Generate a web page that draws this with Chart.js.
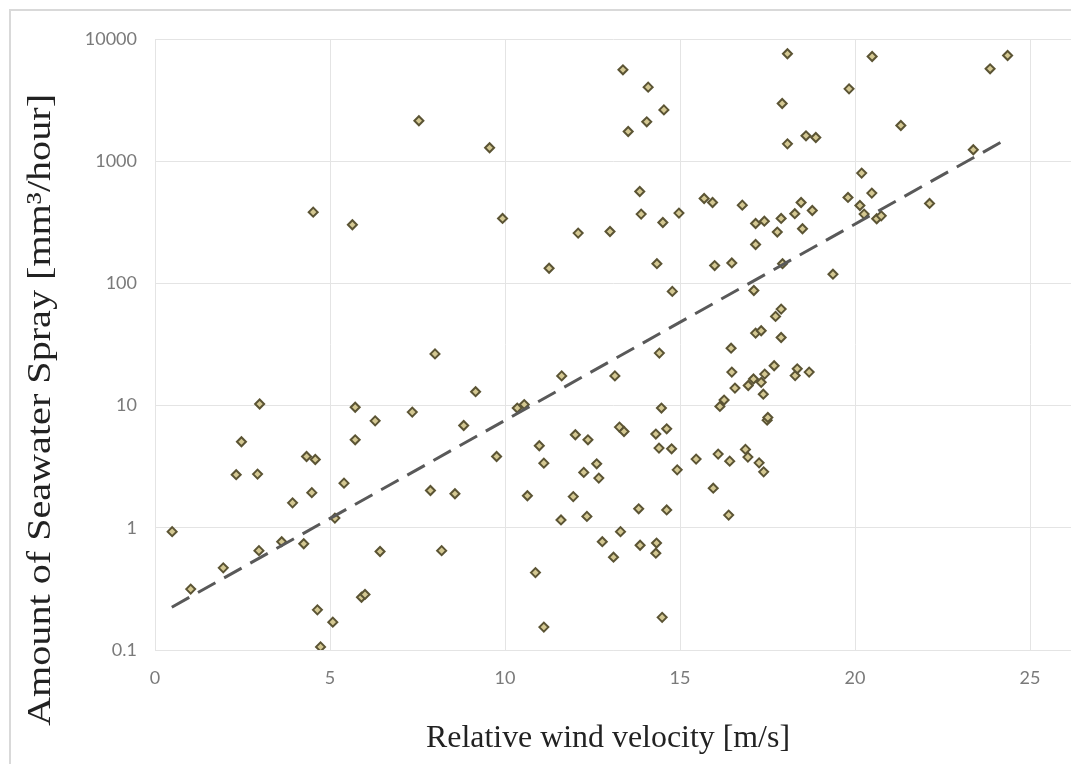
<!DOCTYPE html>
<html>
<head>
<meta charset="utf-8">
<title>Seawater spray vs relative wind velocity</title>
<script src="https://cdn.jsdelivr.net/npm/chart.js@4.4.1/dist/chart.umd.min.js"></script>
<style>
  html, body { margin: 0; padding: 0; background: #fff; }
  #wrap { width: 1071px; height: 764px; position: relative; }
</style>
</head>
<body>
<div id="wrap"><canvas id="sprayCanvas"></canvas></div>
<script>
// relative wind velocity [m/s]
var windSpeed = [
  0.49, 1.02, 1.95, 2.32, 2.47, 2.93, 2.99, 2.97, 3.62, 3.93,
  4.25, 4.33, 4.58, 4.48, 4.64, 4.73, 5.08, 5.14, 5.40, 5.72,
  5.72, 5.90, 6.00, 4.52, 5.64, 7.54, 9.56, 9.93, 13.37, 14.09,
  14.54, 14.05, 13.52, 13.85, 13.89, 14.97, 14.51, 12.09, 13.00, 11.26,
  14.34, 14.78, 8.00, 14.41, 6.29, 7.35, 9.16, 8.82, 9.76, 7.87,
  8.57, 6.43, 8.19, 10.35, 10.55, 11.62, 13.14, 14.47, 10.98, 11.11,
  10.64, 12.01, 12.37, 13.27, 13.40, 12.62, 12.25, 12.68, 11.95, 11.60,
  12.34, 14.31, 14.62, 14.40, 14.76, 14.92, 15.46, 13.82, 14.62, 13.30,
  12.78, 13.86, 13.10, 14.33, 14.31, 10.87, 11.11, 14.49, 18.07, 20.49,
  24.36, 23.86, 19.83, 17.92, 21.31, 18.60, 18.88, 18.07, 23.38, 20.19,
  15.69, 15.93, 16.78, 19.80, 20.48, 22.13, 20.14, 20.26, 20.62, 20.75,
  18.46, 18.78, 18.28, 17.89, 17.41, 17.16, 18.50, 17.78, 17.16, 15.99,
  16.48, 17.93, 19.37, 17.11, 17.89, 17.73, 17.16, 17.32, 17.89, 16.46,
  16.48, 16.57, 16.95, 17.10, 17.32, 17.42, 17.69, 18.29, 18.35, 18.69,
  17.38, 16.14, 16.26, 17.49, 17.51, 16.09, 16.42, 16.87, 16.94, 17.26,
  17.39, 15.95, 16.39
];
// amount of seawater spray [mm3/hour]
var sprayAmount = [
  0.93, 0.315, 0.47, 2.72, 5.06, 2.75, 10.3, 0.65, 0.77, 1.6,
  0.74, 3.83, 3.62, 1.94, 0.213, 0.106, 0.169, 1.2, 2.32, 9.7,
  5.25, 0.27, 0.285, 383, 302, 2142, 1289, 340, 5596, 4037,
  2630, 2100, 1750, 565, 369, 376, 315, 258, 266, 133,
  145, 86, 26.5, 26.9, 7.5, 8.85, 13.0, 6.87, 3.83, 2.02,
  1.9, 0.64, 0.65, 9.55, 10.2, 17.5, 17.5, 9.55, 4.69, 3.38,
  1.83, 5.77, 5.25, 6.67, 6.14, 3.34, 2.84, 2.55, 1.8, 1.16,
  1.24, 5.85, 6.46, 4.49, 4.43, 2.98, 3.65, 1.43, 1.4, 0.93,
  0.77, 0.72, 0.575, 0.75, 0.62, 0.43, 0.154, 0.185, 7568, 7190,
  7330, 5700, 3910, 2965, 1960, 1614, 1563, 1387, 1240, 799,
  495, 459, 437, 505, 548, 451, 434, 369, 338, 357,
  459, 395, 372, 340, 323, 309, 280, 263, 208, 140,
  147, 145, 119, 87.5, 61.6, 53.7, 39.2, 41, 36.1, 29.5,
  18.8, 13.9, 14.6, 16.5, 15.5, 18.1, 21.2, 17.6, 20.0, 18.8,
  12.4, 9.84, 11.1, 7.6, 8.0, 4.01, 3.51, 4.38, 3.79, 3.4,
  2.87, 2.11, 1.27
];
// exponential trend line, read at its two ends
var trendX = [0.48, 24.38];
var trendY = [0.224, 1545];

var xTicks = [0, 5, 10, 15, 20, 25];
var yTicks = [0.1, 1, 10, 100, 1000, 10000];

var xTitle = 'Relative wind velocity [m/s]';
var yTitle = 'Amount of Seawater Spray [mm\u00b3/hour]';

var points = [];
for (var i = 0; i < windSpeed.length; i++) {
  points.push({x: windSpeed[i], y: sprayAmount[i]});
}
var trend = [];
for (var j = 0; j < trendX.length; j++) {
  trend.push({x: trendX[j], y: trendY[j]});
}

var gridColor = '#e4e4e4';
var tickFont = {family: 'Lato', size: 18};

// light frame of the chart area + axis titles in serif
var decor = {
  id: 'decor',
  beforeDraw: function(chart) {
    var ctx = chart.ctx;
    ctx.save();
    ctx.fillStyle = '#fff';
    ctx.fillRect(0, 0, chart.width, chart.height);
    ctx.strokeStyle = '#d9d9d9';
    ctx.lineWidth = 2;
    ctx.beginPath();
    ctx.moveTo(10, chart.height);
    ctx.lineTo(10, 10);
    ctx.lineTo(chart.width, 10);
    ctx.stroke();
    ctx.restore();
  },
  afterDraw: function(chart) {
    var ctx = chart.ctx;
    ctx.save();
    ctx.fillStyle = '#222';
    ctx.textAlign = 'center';
    ctx.textBaseline = 'alphabetic';
    ctx.font = '34px "Liberation Serif"';
    ctx.save();
    ctx.translate(50, 410);
    ctx.rotate(-Math.PI / 2);
    var w = ctx.measureText(yTitle).width;
    ctx.scale(632 / w, 1);
    ctx.fillText(yTitle, 0, 0);
    ctx.restore();
    ctx.font = '31px "Liberation Serif"';
    ctx.save();
    ctx.translate(608, 747);
    var w2 = ctx.measureText(xTitle).width;
    ctx.scale(364 / w2, 1);
    ctx.fillText(xTitle, 0, 0);
    ctx.restore();
    ctx.restore();
  }
};

var ctx = document.getElementById('sprayCanvas').getContext('2d');
var sprayChart = new Chart(ctx, {
  type: 'scatter',
  data: {
    datasets: [
      {
        label: 'trend',
        data: trend,
        showLine: true,
        borderColor: '#595959',
        borderWidth: 3,
        borderDash: [20, 10],
        pointRadius: 0,
        fill: false
      },
      {
        label: 'spray',
        data: points,
        pointStyle: 'rectRot',
        pointRadius: 4.5,
        borderWidth: 2,
        borderColor: '#5b5434',
        backgroundColor: '#d4c892'
      }
    ]
  },
  options: {
    responsive: true,
    maintainAspectRatio: false,
    animation: false,
    layout: {autoPadding: false, padding: {top: 39, left: 0, right: 0, bottom: 0}},
    plugins: {legend: {display: false}, tooltip: {enabled: false}},
    scales: {
      x: {
        type: 'linear',
        min: 0,
        max: (1071 - 155) / 35,
        afterBuildTicks: function(scale) {
          scale.ticks = xTicks.map(function(v) { return {value: v}; });
        },
        afterFit: function(scale) { scale.height = 114; },
        grid: {color: gridColor, drawTicks: false},
        border: {color: gridColor},
        ticks: {font: tickFont, color: '#7a7a7a', padding: 17,
                maxRotation: 0, callback: function(v) { return String(v); }}
      },
      y: {
        type: 'logarithmic',
        min: 0.1,
        max: 10000,
        afterBuildTicks: function(scale) {
          scale.ticks = yTicks.map(function(v) { return {value: v}; });
        },
        afterFit: function(scale) { scale.width = 155; },
        grid: {color: gridColor, drawTicks: false},
        border: {color: gridColor},
        ticks: {font: tickFont, color: '#7a7a7a', padding: 18,
                callback: function(v) { return String(v); }}
      }
    }
  },
  plugins: [decor]
});
</script>
</body>
</html>
